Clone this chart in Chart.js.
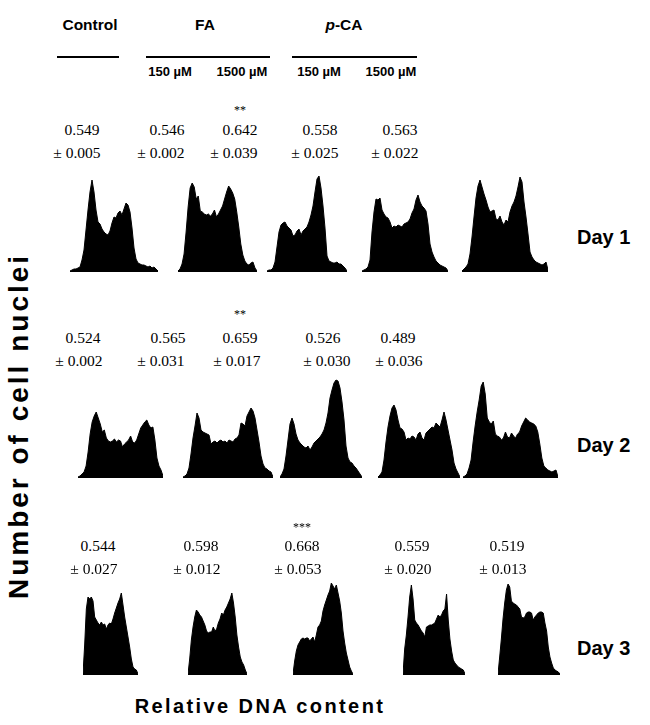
<!DOCTYPE html>
<html>
<head>
<meta charset="utf-8">
<script src="https://cdn.jsdelivr.net/npm/chart.js@4/dist/chart.umd.min.js"></script>
<style>
  html, body { margin: 0; padding: 0; background: #fff; }
  #fig { position: relative; width: 650px; height: 725px; overflow: hidden; background: #fff; }
  .panel { position: absolute; }
  .panel canvas { display: block; }
  .t { position: absolute; transform: translate(-50%, -50%); white-space: nowrap; color: #000; line-height: 1; }
  .head { font-family: "Liberation Sans", Arial, sans-serif; font-weight: bold; font-size: 15.5px; }
  .sub { font-family: "Liberation Sans", Arial, sans-serif; font-weight: bold; font-size: 13px; }
  .num { font-family: "Liberation Serif", "Times New Roman", serif; font-size: 15.5px; }
  .sig { font-family: "Liberation Serif", "Times New Roman", serif; font-size: 12px; }
  .day { font-family: "Liberation Sans", Arial, sans-serif; font-weight: bold; font-size: 20px; transform: translate(0, -50%); }
  .axis { font-family: "Liberation Sans", Arial, sans-serif; font-weight: bold; font-size: 20px; letter-spacing: 2.4px; }
  .yaxis { font-size: 28px; letter-spacing: 3px; }
  .rule { position: absolute; height: 2px; background: #000; }
</style>
</head>
<body>
<div id="fig"></div>
<script>
// Treatment groups (columns) and sampling days (rows)
const groups = ['Control', 'FA 150 µM', 'FA 1500 µM', 'p-CA 150 µM', 'p-CA 1500 µM'];
const days = ['Day 1', 'Day 2', 'Day 3'];

// Mean ratio ± SD for each day, one entry per group
const day1Mean = [0.549, 0.546, 0.642, 0.558, 0.563];
const day1Sd   = [0.005, 0.002, 0.039, 0.025, 0.022];
const day2Mean = [0.524, 0.565, 0.659, 0.526, 0.489];
const day2Sd   = [0.002, 0.031, 0.017, 0.030, 0.036];
const day3Mean = [0.544, 0.598, 0.668, 0.559, 0.519];
const day3Sd   = [0.027, 0.012, 0.053, 0.020, 0.013];
const day1Sig  = ['', '', '**', '', ''];
const day2Sig  = ['', '', '**', '', ''];
const day3Sig  = ['', '', '***', '', ''];

// DNA content histograms (number of nuclei per channel, arbitrary units)
const d1Control = [1,2,3,3,4,5,12,22,42,62,80,92,80,62,50,48,43,40,38,37,41,49,55,54,59,61,57,63,69,67,60,44,24,13,9,8,7,7,6,5,6,4,5,3,1];
const d1Fa150   = [1,3,8,18,40,65,84,89,85,73,76,61,60,58,57,58,56,58,62,55,58,62,66,73,80,86,83,79,73,60,45,28,17,11,8,7,9,10,4,1];
const d1Fa1500  = [1,2,2,4,10,25,40,47,49,50,46,44,42,36,37,41,43,37,41,43,45,50,57,66,80,93,96,84,66,44,16,11,10,9,9,10,8,8,6,4,1];
const d1Pca150  = [1,2,3,5,12,40,60,73,72,74,62,58,55,54,50,44,46,45,47,46,45,48,49,50,53,59,63,72,77,70,66,64,61,48,28,20,15,11,9,7,6,5,4,1];
const d1Pca1500 = [1,3,5,8,18,35,55,74,86,92,85,78,72,65,60,61,62,53,52,56,50,47,52,50,60,66,70,76,85,95,90,70,55,38,20,15,12,10,9,8,7,8,10,2];

const d2Control = [1,2,4,6,12,26,44,56,62,66,60,54,46,48,40,37,36,37,39,36,38,37,31,34,36,38,42,36,35,38,44,50,53,56,58,53,50,51,38,20,12,8,2];
const d2Fa150   = [1,2,4,10,24,40,52,65,60,48,46,45,44,43,34,36,37,35,37,38,36,37,35,38,37,36,39,40,43,55,54,52,62,66,70,67,60,48,36,22,14,10,9,7,6,1];
const d2Fa1500  = [1,4,9,22,38,54,60,54,44,38,35,33,31,30,32,28,31,35,37,39,41,44,48,55,65,80,88,95,98,97,90,76,58,32,20,16,15,12,10,7,4,1];
const d2Pca150  = [1,3,6,18,36,51,62,70,73,68,58,50,49,46,38,40,39,42,41,38,44,46,40,38,45,47,49,51,50,55,53,51,58,66,58,48,38,28,15,9,5,1];
const d2Pca1500 = [1,2,4,10,18,36,52,66,78,92,96,84,60,56,54,57,44,42,41,38,40,46,41,40,45,42,40,44,46,52,56,60,58,56,55,54,52,46,34,20,12,10,8,7,6,7,8,1];

const d3Control = [1,30,66,78,76,78,74,58,55,52,50,53,50,51,46,50,52,51,56,62,67,72,76,82,70,58,48,38,28,16,8,6,5,1];
const d3Fa150   = [1,16,35,48,58,65,63,60,58,54,50,44,42,43,43,48,44,46,52,56,62,60,65,68,72,76,82,72,58,40,28,18,13,10,5,1];
const d3Fa1500  = [1,14,24,30,33,36,37,36,37,37,34,36,38,33,40,48,50,54,64,70,75,80,84,92,89,86,90,82,74,62,44,32,22,15,8,4,1];
const d3Pca150  = [1,26,40,58,78,90,76,55,52,50,47,44,42,38,48,49,50,50,51,52,56,60,58,60,64,66,81,55,36,24,15,12,10,8,7,6,5,1];
const d3Pca1500 = [1,18,36,56,72,85,91,88,74,72,71,70,68,66,58,57,58,62,63,63,62,55,58,60,62,63,63,62,52,44,28,18,12,7,5,4,3,1];

const histRows = [
  [d1Control, d1Fa150, d1Fa1500, d1Pca150, d1Pca1500],
  [d2Control, d2Fa150, d2Fa1500, d2Pca150, d2Pca1500],
  [d3Control, d3Fa150, d3Fa1500, d3Pca150, d3Pca1500]
];
const meanRows = [day1Mean, day2Mean, day3Mean];
const sdRows = [day1Sd, day2Sd, day3Sd];
const sigRows = [day1Sig, day2Sig, day3Sig];

// ---- layout (page pixels) ----
const PANEL_H = 100;
const rowBase = [272, 478, 675];
const panelSpan = [
  [[70, 158], [178, 257], [267, 347], [362, 448], [462, 548]],
  [[78, 163], [183, 273], [280, 362], [378, 460], [463, 558]],
  [[83, 138], [188, 247], [293, 353], [403, 465], [498, 560]]
];
const valueX = [[82, 167, 240, 320, 400], [83, 168, 240, 323, 398], [98, 201, 302, 412, 507]];
const sdX    = [[77, 161, 234, 315, 395], [79, 161, 237, 327, 399], [94, 197, 298, 408, 503]];
const textY  = [{ sig: 110, val: 130, sd: 153 }, { sig: 314, val: 338, sd: 361 }, { sig: 527, val: 546, sd: 569 }];
const dayY = [237, 445, 648];

const fig = document.getElementById('fig');

function addText(cls, html, x, y) {
  const d = document.createElement('div');
  d.className = 't ' + cls;
  d.innerHTML = html;
  d.style.left = x + 'px';
  d.style.top = y + 'px';
  fig.appendChild(d);
  return d;
}
function addRule(x0, x1, y) {
  const r = document.createElement('div');
  r.className = 'rule';
  r.style.left = x0 + 'px';
  r.style.width = (x1 - x0) + 'px';
  r.style.top = (y - 1) + 'px';
  fig.appendChild(r);
}

// column headings
addText('head', 'Control', 90, 25);
addText('head', 'FA', 205, 25);
addText('head', '<i>p</i>-CA', 344, 25);
addRule(57, 119, 57);
addRule(146, 270, 57);
addRule(292, 417, 57);
addText('sub', '150 µM', 170, 71);
addText('sub', '1500 µM', 242, 71);
addText('sub', '150 µM', 319, 71);
addText('sub', '1500 µM', 391, 71);

// one filled histogram per group and day
function drawHistogram(values, span, base) {
  const box = document.createElement('div');
  box.className = 'panel';
  const w = span[1] - span[0];
  box.style.left = span[0] + 'px';
  box.style.top = (base - PANEL_H) + 'px';
  const cv = document.createElement('canvas');
  cv.width = w; cv.height = PANEL_H;
  cv.style.width = w + 'px'; cv.style.height = PANEL_H + 'px';
  box.appendChild(cv);
  fig.appendChild(box);
  new Chart(cv, {
    type: 'line',
    data: {
      labels: values.map((_, i) => i + 1),
      datasets: [{
        data: values,
        fill: 'origin',
        backgroundColor: '#000',
        borderColor: '#000',
        borderWidth: 1,
        pointRadius: 0,
        tension: 0
      }]
    },
    options: {
      responsive: false,
      animation: false,
      devicePixelRatio: 1,
      events: [],
      layout: { padding: 0 },
      plugins: { legend: { display: false }, tooltip: { enabled: false } },
      scales: {
        x: { display: false, offset: false },
        y: { display: false, min: 0, max: 100 }
      }
    }
  });
}

histRows.forEach((row, r) => {
  row.forEach((vals, c) => {
    drawHistogram(vals, panelSpan[r][c], rowBase[r]);
    if (sigRows[r][c]) addText('sig', sigRows[r][c], valueX[r][c], textY[r].sig);
    addText('num', meanRows[r][c].toFixed(3), valueX[r][c], textY[r].val);
    addText('num', '± ' + sdRows[r][c].toFixed(3), sdX[r][c], textY[r].sd);
  });
  addText('day', days[r], 577, dayY[r]);
});

// axis titles
const yl = addText('axis yaxis', 'Number of cell nuclei', 19, 426);
yl.style.transform = 'translate(-50%, -50%) rotate(-90deg)';
addText('axis', 'Relative DNA content', 260, 706);
</script>
</body>
</html>
